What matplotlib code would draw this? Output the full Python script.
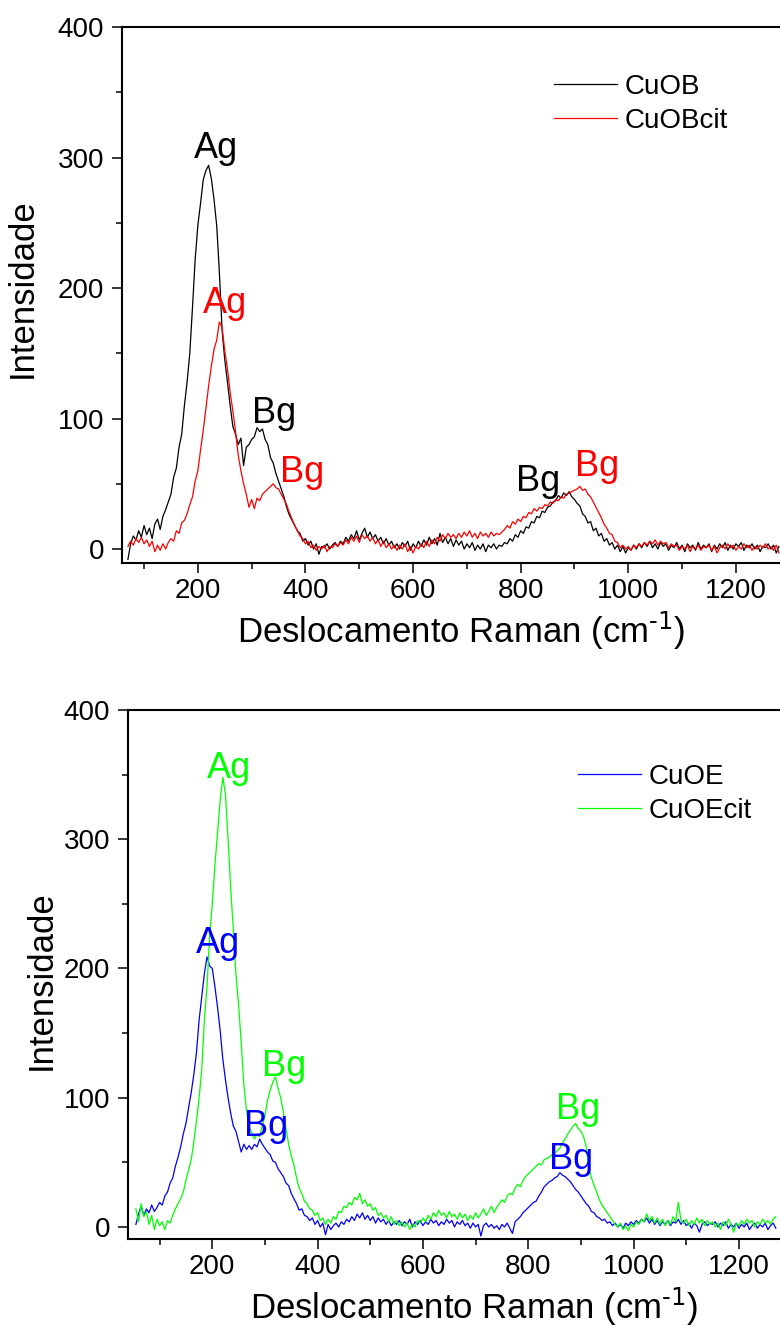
import numpy as np
import matplotlib
matplotlib.use('Agg')
import matplotlib.pyplot as plt
from matplotlib.ticker import MultipleLocator

plt.rcParams['font.family'] = ['Liberation Sans', 'DejaVu Sans']
plt.rcParams['mathtext.default'] = 'regular'

# Raman shift grids (cm-1), 5 cm-1 steps
shift_b = np.arange(70, 1281, 5)
shift_e = np.arange(55, 1271, 5)

cuob = [
    -8, 4, 10, 7, 14, 9, 18, 11, 16, 8, 19, 23, 15, 25, 30, 36, 42, 55, 62, 78,
    88, 110, 128, 150, 185, 222, 248, 265, 283, 290, 294, 284, 268, 248, 212, 168, 145, 128, 110, 94,
    88, 80, 85, 64, 78, 80, 84, 86, 93, 90, 92, 84, 80, 70, 66, 58, 52, 46, 40, 32,
    26, 22, 18, 14, 12, 6, 8, 3, 6, 0, 4, -4, 2, 1, 4, 0, 3, 5, 2, 6,
    4, 9, 6, 11, 8, 14, 7, 12, 16, 9, 13, 8, 11, 6, 9, 4, 8, 3, 6, 1,
    4, 0, 5, 2, 6, -1, 4, 1, 6, 2, 7, 3, 9, 4, 8, 3, 12, 5, 9, 4,
    8, 2, 7, 3, 6, 0, 4, 1, 5, -1, 3, 0, 4, -2, 3, 1, 4, 0, 3, 2,
    5, 4, 8, 6, 11, 9, 14, 12, 17, 16, 21, 20, 25, 24, 29, 28, 32, 33, 36, 37,
    41, 39, 43, 41, 44, 40, 38, 35, 33, 27, 25, 20, 21, 14, 16, 10, 12, 6, 8, 3,
    5, 0, 3, -2, 2, -3, 1, -1, 3, 0, 4, 1, 5, 2, 6, 1, 4, 0, 5, 2,
    4, -1, 3, 1, 5, 0, 3, -2, 4, 1, 3, -1, 5, 0, 3, 1, 4, -2, 3, 0,
    4, 1, 5, -1, 3, 0, 4, 2, 5, -1, 3, 1, 4, 0, 3, -2, 2, 1, 4, 0,
    3, -3, 2,
]

cuobcit = [
    2, 6, 3, 8, 5, 9, 4, 7, 2, 6, -2, 3, -1, 4, 0, 5, 8, 6, 14, 12,
    20, 22, 27, 34, 40, 52, 60, 76, 91, 108, 125, 140, 153, 160, 174, 170, 152, 138, 120, 106,
    90, 72, 60, 50, 42, 32, 38, 31, 39, 37, 42, 44, 46, 48, 50, 47, 46, 42, 38, 34,
    28, 23, 18, 14, 10, 8, 4, 6, 1, 3, -1, 2, 0, 3, -2, 2, 1, 4, 2, 5,
    3, 7, 4, 9, 6, 10, 5, 11, 8, 10, 6, 9, 4, 7, 2, 6, 1, 4, 0, 3,
    -1, 3, 0, 4, -2, 2, -3, 2, 0, 4, 1, 6, 2, 7, 4, 9, 6, 11, 8, 12,
    9, 11, 8, 12, 9, 13, 10, 14, 9, 12, 8, 13, 10, 12, 9, 13, 10, 12, 11, 13,
    15, 18, 16, 21, 19, 23, 21, 25, 24, 28, 27, 31, 29, 32, 31, 34, 33, 36, 35, 38,
    37, 40, 39, 42, 43, 44, 45, 46, 48, 45, 46, 42, 40, 36, 32, 28, 24, 19, 16, 12,
    11, 6, 5, 1, 3, 0, 2, -1, 3, 1, 4, 2, 5, 3, 6, 4, 7, 3, 6, 4,
    5, 1, 4, 2, 3, -1, 2, 0, 3, -2, 2, 0, 3, -1, 2, 1, 3, -1, 2, -3,
    1, 3, 0, 4, 1, 3, -1, 2, 0, 4, 1, 3, -1, 2, 0, 3, 1, 4, 0, 2,
    -1, 3, -3,
]

cuoe = [
    2, 10, 16, 9, 14, 11, 17, 12, 15, 19, 17, 24, 27, 34, 38, 47, 54, 62, 72, 80,
    92, 104, 118, 135, 160, 178, 196, 209, 202, 200, 186, 170, 152, 130, 114, 100, 88, 78, 74, 66,
    58, 64, 60, 63, 60, 64, 62, 68, 64, 61, 58, 56, 51, 50, 45, 42, 39, 34, 32, 26,
    22, 18, 13, 14, 9, 8, 5, 7, 2, 5, 0, 3, -6, 2, -2, 1, 3, 0, 4, 2,
    6, 4, 8, 5, 10, 7, 11, 6, 9, 5, 8, 3, 7, 4, 6, 2, 5, 1, 4, 2,
    5, 1, 4, 2, 6, 0, 4, 2, 5, 1, 4, 2, 6, 3, 5, 1, 4, 2, 6, 3,
    5, 0, 4, 2, 5, 1, 3, -1, 3, 0, 2, -7, 1, 3, 0, 2, -1, 1, -2, 2,
    0, 3, -1, -5, 4, 6, 8, 11, 13, 15, 17, 19, 20, 24, 27, 31, 33, 35, 36, 38,
    39, 42, 40, 39, 37, 35, 32, 29, 27, 24, 21, 18, 16, 12, 11, 8, 7, 5, 6, 3,
    4, 1, 3, 0, 2, -1, 3, 1, 4, 2, 5, 3, 6, 4, 7, 3, 6, 2, 5, 1,
    4, 2, 5, 1, 4, 3, 6, 2, 5, 1, 3, -1, 3, 1, -4, 2, 4, 1, 3, 2,
    4, 0, 3, 1, 4, -1, 2, 0, 3, -1, 2, 0, 3, -2, 1, 3, -1, 2, 0, 3,
    -2, 1, 3, -1,
]

cuoecit = [
    14, 4, 18, 8, 12, 2, 9, -2, 6, 1, 4, -2, 5, 3, 9, 14, 18, 22, 27, 36,
    44, 52, 66, 82, 100, 122, 160, 186, 225, 250, 280, 305, 330, 348, 335, 300, 262, 230, 195, 172,
    142, 110, 90, 77, 73, 68, 72, 70, 78, 86, 98, 106, 112, 116, 107, 100, 89, 76, 64, 55,
    48, 38, 30, 26, 20, 18, 14, 13, 9, 11, 5, 7, 2, 6, 3, 8, 6, 12, 11, 16,
    15, 19, 17, 23, 21, 26, 18, 21, 16, 18, 13, 15, 9, 11, 7, 9, 4, 8, 2, 5,
    1, 4, 0, 3, -2, 2, 0, 5, 3, 7, 4, 9, 6, 11, 8, 13, 9, 11, 7, 12,
    8, 10, 6, 11, 7, 10, 5, 9, 6, 11, 7, 10, 14, 9, 12, 16, 11, 15, 18, 21,
    19, 24, 26, 25, 30, 33, 31, 36, 39, 41, 43, 45, 47, 49, 48, 52, 53, 54, 56, 57,
    59, 61, 65, 68, 72, 75, 78, 80, 76, 74, 70, 62, 46, 38, 32, 27, 21, 17, 14, 11,
    8, 5, 2, 0, 3, -2, 1, -3, 2, 0, 4, 2, 6, 4, 10, 5, 8, 3, 7, 2,
    6, 1, 5, 2, 8, 4, 19, 5, 3, 6, 1, 5, 2, 7, 3, 6, 1, 5, 2, 4,
    0, 3, -2, 4, 1, 6, 2, -4, 3, 1, 5, 2, 6, 3, 5, 0, 4, 2, 6, 3,
    5, 2, 6, 8,
]

# peak labels: (text, x, y, colour)
labels_b = [
    ("Ag", 234, 307, "black"), ("Ag", 250, 188, "red"),
    ("Bg", 342, 104, "black"), ("Bg", 394, 59, "red"),
    ("Bg", 832, 52, "black"), ("Bg", 942, 63, "red"),
]
labels_e = [
    ("Ag", 232, 355, "#00ff00"), ("Ag", 211, 219, "blue"),
    ("Bg", 336, 124, "#00ff00"), ("Bg", 302, 78, "blue"),
    ("Bg", 895, 91, "#00ff00"), ("Bg", 881, 52, "blue"),
]

W, H = 780, 1326
fig = plt.figure(figsize=(W / 100, H / 100), dpi=100)


def make_axes(left, top, right, bottom):
    return fig.add_axes([left / W, 1 - bottom / H, (right - left) / W, (bottom - top) / H])


def style(ax, xlim, ylim):
    ax.set_xlim(*xlim)
    ax.set_ylim(*ylim)
    ax.spines['right'].set_visible(False)
    for s in ('left', 'bottom', 'top'):
        ax.spines[s].set_linewidth(1.5)
    ax.xaxis.set_major_locator(MultipleLocator(200))
    ax.xaxis.set_minor_locator(MultipleLocator(100))
    ax.yaxis.set_major_locator(MultipleLocator(100))
    ax.yaxis.set_minor_locator(MultipleLocator(50))
    ax.tick_params(which='both', direction='out', top=False, right=False, width=1.1)
    ax.tick_params(which='major', length=7, labelsize=20)
    ax.tick_params(which='minor', length=4.5)
    ax.tick_params(axis='x', which='major', pad=4)
    ax.tick_params(axis='y', which='major', pad=6)


ax1 = make_axes(122, 27, 780, 563)
ax1.plot(shift_b, cuob, color='black', lw=0.9, label='CuOB')
ax1.plot(shift_b, cuobcit, color='red', lw=0.9, label='CuOBcit')
style(ax1, (59, 1282), (-10.7, 400))
for txt, x, y, c in labels_b:
    ax1.text(x, y, txt, color=c, fontsize=26, ha='center', va='center')

ax2 = make_axes(128, 710, 780, 1239)
ax2.plot(shift_e, cuoe, color='blue', lw=0.9, label='CuOE')
ax2.plot(shift_e, cuoecit, color='#00ff00', lw=0.9, label='CuOEcit')
style(ax2, (40, 1278), (-9.3, 400))
for txt, x, y, c in labels_e:
    ax2.text(x, y, txt, color=c, fontsize=26, ha='center', va='center')

for ax, (lx, ly), (tl, tt, tr, tb), xlab_c, ylab_c in [
    (ax1, (554, 74), (122, 27, 780, 563), (461, 631), (22, 288)),
    (ax2, (578, 764), (128, 710, 780, 1239), (474, 1307), (41, 980)),
]:
    ax.legend(loc='upper left', bbox_to_anchor=(lx / W, 1 - ly / H),
              bbox_transform=fig.transFigure, frameon=False, fontsize=20,
              borderpad=0, borderaxespad=0, handlelength=2.25,
              handletextpad=0.3, labelspacing=0.28)
    aw, ah = tr - tl, tb - tt
    ax.set_xlabel(r'Deslocamento Raman (cm$^{\text{-1}}$)', fontsize=25, va='center')
    ax.xaxis.set_label_coords((xlab_c[0] - tl) / aw, (tb - xlab_c[1]) / ah)
    ax.set_ylabel('Intensidade', fontsize=25, va='center')
    ax.yaxis.set_label_coords((ylab_c[0] - tl) / aw, (tb - ylab_c[1]) / ah)

fig.savefig('out.png', dpi=100)
